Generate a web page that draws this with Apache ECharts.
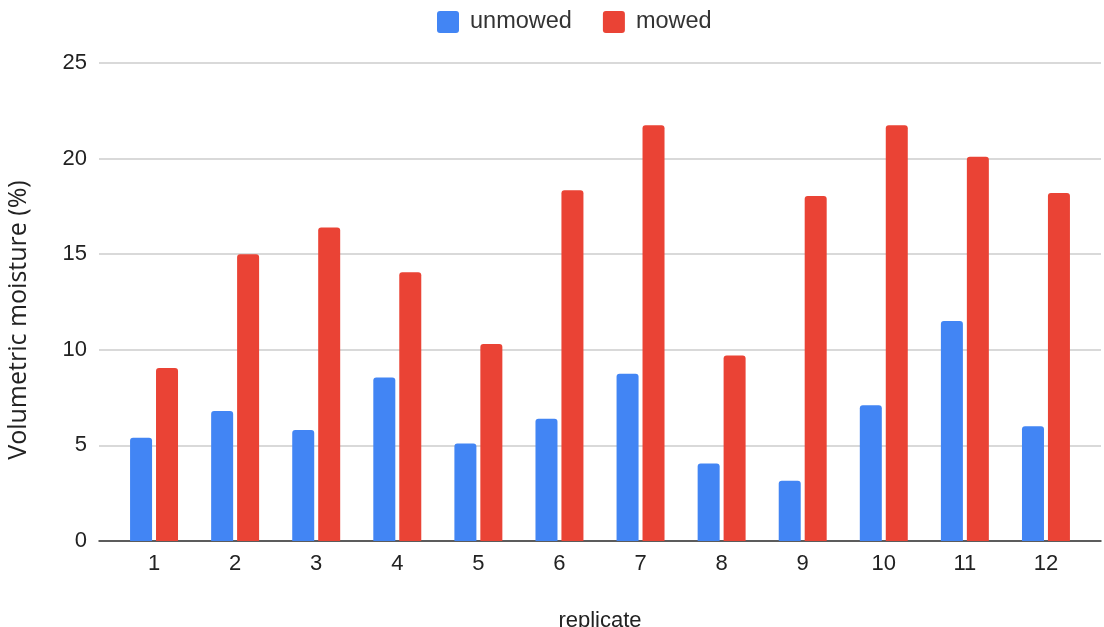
<!DOCTYPE html>
<html>
<head>
<meta charset="utf-8">
<script src="https://cdn.jsdelivr.net/npm/echarts@6/dist/echarts.min.js"></script>
<style>
html,body{margin:0;padding:0;background:#fff;}
#chart{width:1104px;height:627px;}
</style>
</head>
<body>
<div id="chart"></div>
<script>
var categories = ['1','2','3','4','5','6','7','8','9','10','11','12'];
var unmowed = [5.4, 6.8, 5.8, 8.55, 5.1, 6.4, 8.75, 4.05, 3.15, 7.1, 11.5, 6.0];
var mowed = [9.05, 15.0, 16.4, 14.05, 10.3, 18.35, 21.75, 9.7, 18.05, 21.75, 20.1, 18.2];
var yTicks = {min: 0, max: 25, interval: 5};

var font = 'Liberation Sans, Arial, sans-serif';
var chart = echarts.init(document.getElementById('chart'));
chart.setOption({
  animation: false,
  backgroundColor: '#fff',
  legend: {
    left: 432, top: 5,
    icon: 'path://M3,0 H19 Q22,0 22,3 V19 Q22,22 19,22 H3 Q0,22 0,19 V3 Q0,0 3,0 Z',
    itemWidth: 22, itemHeight: 22, itemGap: 31,
    textStyle: {fontFamily: font, fontSize: 23.5, color: '#333', padding: [0, 0, 0, 6]},
    data: ['unmowed', 'mowed']
  },
  grid: [
    {left: 99, right: 3, top: 63, bottom: 86, outerBoundsMode: 'none', containLabel: false},
    {left: 113.5, right: 17.5, top: 63, bottom: 86, outerBoundsMode: 'none', containLabel: false}
  ],
  xAxis: [
    {gridIndex: 0, type: 'value', min: 0, max: 1,
     axisLine: {show: true, lineStyle: {color: '#333', width: 1.5}},
     axisTick: {show: false}, axisLabel: {show: false}, splitLine: {show: false},
     name: 'replicate', nameLocation: 'middle', nameGap: 69,
     nameTextStyle: {fontFamily: font, fontSize: 22, color: '#222'}},
    {gridIndex: 1, type: 'category', data: categories,
     axisLine: {show: false}, axisTick: {show: false},
     axisLabel: {fontFamily: font, fontSize: 22, color: '#222', margin: 12}}
  ],
  yAxis: [
    {gridIndex: 0, type: 'value', min: yTicks.min, max: yTicks.max, interval: yTicks.interval,
     axisLine: {show: false}, axisTick: {show: false},
     axisLabel: {fontFamily: font, fontSize: 22, color: '#222', margin: 12},
     splitLine: {lineStyle: {color: '#cccccc', width: 1.5}},
     name: 'Volumetric moisture (%)', nameLocation: 'middle', nameGap: 68,
     nameTextStyle: {fontFamily: 'Open Sans, sans-serif', fontSize: 25, color: '#222', padding: [0, 36, 0, 0]}},
    {gridIndex: 1, type: 'value', min: yTicks.min, max: yTicks.max, interval: yTicks.interval, show: false}
  ],
  series: [
    {name: 'unmowed', type: 'bar', xAxisIndex: 1, yAxisIndex: 1, data: unmowed,
     barWidth: 22, barGap: '18%',
     itemStyle: {color: '#4285F4', borderRadius: [3, 3, 0, 0]}},
    {name: 'mowed', type: 'bar', xAxisIndex: 1, yAxisIndex: 1, data: mowed,
     barWidth: 22, barGap: '18%',
     itemStyle: {color: '#EA4335', borderRadius: [3, 3, 0, 0]}}
  ]
});
</script>
</body>
</html>
